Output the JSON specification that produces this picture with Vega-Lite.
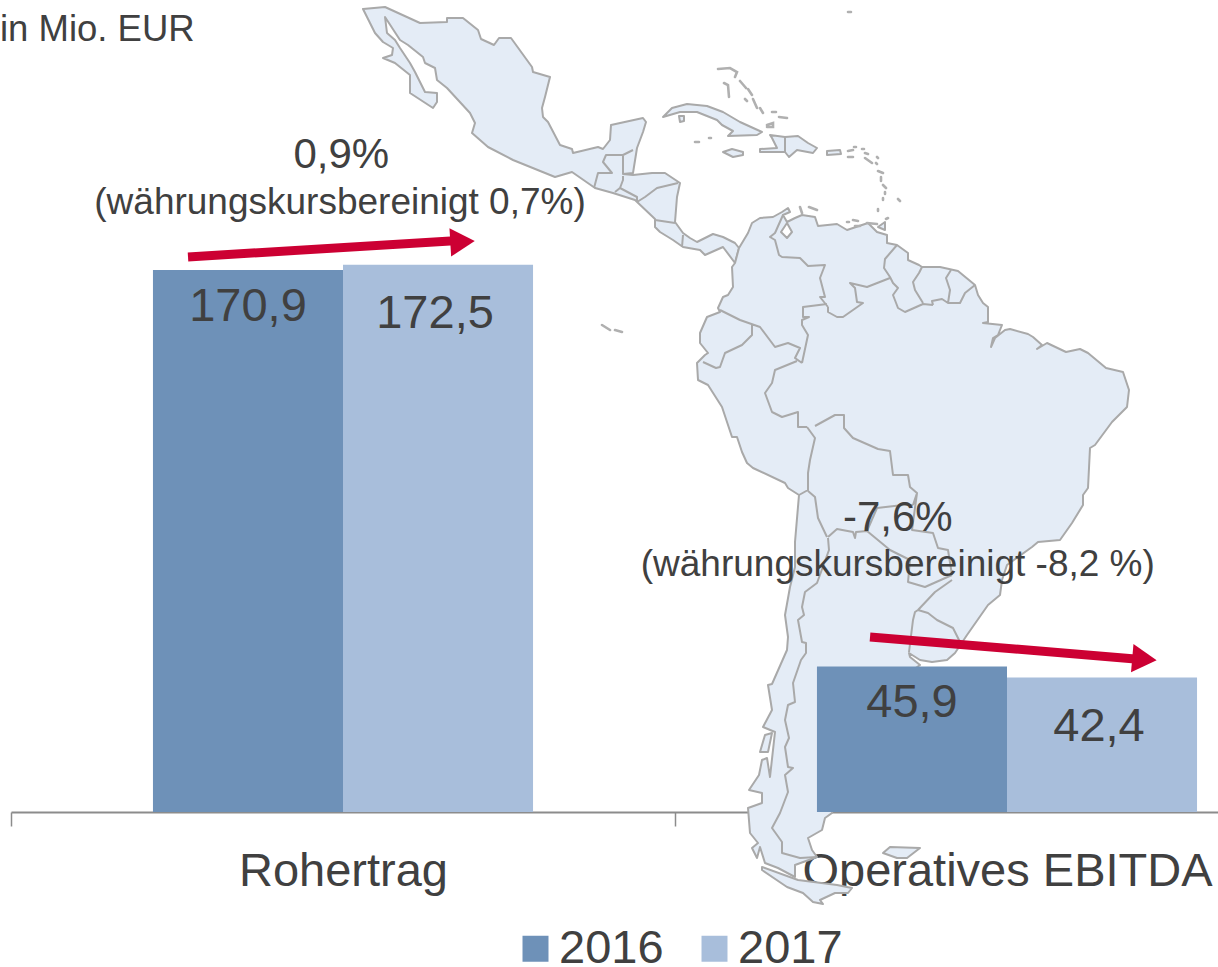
{"$schema":"https://vega.github.io/schema/vega-lite/v6.json","width":1207,"height":812,"autosize":"none","padding":{"left":11,"top":0,"right":0,"bottom":155},"background":"white","config":{"view":{"stroke":null},"font":"Liberation Sans"},
"projection":{"type":"identity","reflectY":true,"scale":10,"translate":[1521,333]},
"resolve":{"scale":{"x":"independent"}},
"layer":[
{"data":{"values":[
{"type":"Feature","properties":{"name":"Mexico and Central America"},"geometry":{"type":"Polygon","coordinates":[[[-116.9,32.4],[-114.7,32.6],[-111.2,31],[-108.5,31.1],[-108.5,31.5],[-106.9,31.5],[-105.4,30.3],[-105.1,29.4],[-103.8,28.8],[-103.3,29.5],[-102.1,29.5],[-100,26.6],[-99.9,26.1],[-98.2,25.6],[-98.7,23.6],[-99,22.5],[-98.9,21.6],[-98.4,21.1],[-97.2,18.8],[-96,18.4],[-95.9,18],[-93.4,18.6],[-92.9,18.4],[-92.2,19.3],[-92.1,20.8],[-88.9,21.5],[-88.6,21.1],[-88.9,20.1],[-89.5,18.5],[-89.9,16],[-90.9,15.9],[-89.9,15.8],[-88,16],[-86.7,16],[-85.2,15],[-85.5,13.6],[-85.7,11.1],[-84.9,10],[-84.2,9.5],[-83.5,9.1],[-81.9,9.9],[-80.9,9.6],[-79.7,9],[-79.3,8.5],[-79.7,7],[-80.9,8.6],[-82.7,7.8],[-83.2,8.3],[-84.9,8.6],[-85.9,9.3],[-87.2,10.1],[-87.7,10.6],[-87.7,11.4],[-89.7,13.3],[-91.9,14],[-93.7,14.5],[-96,16.1],[-97.7,15.6],[-101.9,17.3],[-104.4,18.6],[-106,20],[-105.7,21],[-106.2,22],[-108.5,24.5],[-109.5,25.3],[-109.7,26.5],[-110.7,27],[-110.9,27.6],[-112.4,28.8],[-113.2,29.3],[-114.7,31.6],[-114.5,30],[-113.7,29.3],[-113.2,28.5],[-112.2,27],[-111.7,26.1],[-110.7,24.1],[-109.5,24],[-109.5,23.1],[-109.9,22.5],[-112.2,24],[-112.2,25.8],[-113.7,27],[-114.9,27.5],[-114,27.8],[-113.9,28.5],[-114.9,29.1],[-115.7,30],[-116.9,32.4]]]}},
{"type":"Feature","properties":{"name":"South America"},"geometry":{"type":"Polygon","coordinates":[[[-79.7,7],[-79.3,8.5],[-78.4,10],[-78,11],[-77.2,11.5],[-75.9,11.6],[-75,12.1],[-74.4,12.5],[-74.2,12.1],[-74.9,11.8],[-74.5,11.1],[-73.7,11.5],[-73,11.8],[-71.7,11.6],[-71.4,10.7],[-69.5,10.9],[-68.5,10.3],[-66.4,11],[-65.5,10.1],[-64.5,9.8],[-64.5,9],[-63.5,8.8],[-62.4,8],[-62.4,7.3],[-61.3,6.8],[-61,6.6],[-60,6.6],[-59.2,6.6],[-57.4,6.2],[-55.7,4.8],[-55.4,3.8],[-54.9,3],[-54.4,2.6],[-54.4,1.1],[-54.9,1],[-53,0.8],[-53.4,-0.2],[-53.9,-0.5],[-54.1,-1.4],[-53.7,-0.5],[-52.7,0.3],[-52.2,0.4],[-50.4,-0.1],[-49.9,-0.4],[-49,-1.2],[-49.5,-1.6],[-48.5,-1],[-46.6,-1.9],[-45.2,-1.6],[-44.4,-2],[-42.6,-3.5],[-40.9,-3.9],[-40.3,-5.7],[-40.5,-7.4],[-42,-8.9],[-43.7,-11.2],[-44.2,-11.5],[-44.4,-15.5],[-44.9,-16.2],[-44.9,-17.2],[-46,-19],[-47.2,-20.7],[-49.4,-20.9],[-50,-21.4],[-52.5,-23.2],[-53,-24.7],[-53.2,-26.2],[-54.4,-27.2],[-56.5,-30.2],[-57.7,-32],[-58.5,-32.7],[-60,-32.9],[-61.2,-32.7],[-62.3,-32],[-62.2,-32.4],[-61.2,-33.2],[-66.2,-36.7],[-69.2,-44.7],[-70,-48],[-70.7,-48.5],[-71,-49.7],[-72.4,-50.5],[-72,-51.7],[-71.5,-52.4],[-73.7,-53.2],[-73.7,-54.4],[-75.4,-53.5],[-76.7,-53],[-77.2,-51.4],[-77.5,-52.5],[-78,-51.5],[-77.4,-51],[-78.2,-50],[-78.4,-47.5],[-77,-47],[-77,-46],[-78.3,-45.7],[-77.3,-44.2],[-77,-42.7],[-76.5,-42.5],[-76.2,-44.4],[-75.7,-39.9],[-76.9,-39.4],[-76,-37.7],[-76.4,-35.2],[-76,-35.1],[-74.5,-31.7],[-74.4,-30.4],[-74.7,-28.2],[-74.2,-25.4],[-73.7,-23.4],[-73.7,-20.9],[-73.3,-16.2],[-74.4,-15.5],[-74.7,-15],[-77.9,-13.5],[-78.5,-13],[-79,-11.9],[-79.5,-10.4],[-80,-10.4],[-81,-7.4],[-82.4,-5.2],[-83.4,-4.7],[-83.5,-3],[-82.7,-2.2],[-82.4,-2],[-83.2,-1],[-83.2,0],[-82.5,1.6],[-81.2,2.1],[-81.4,2.5],[-80.9,3.6],[-80.4,3.8],[-79.9,4.6],[-80,6.6],[-79.7,7]],[[-74.5,11],[-75.1,10.1],[-74.5,9.5],[-74,10.1],[-74.5,11]]]}},
{"type":"Feature","properties":{"name":"Cuba"},"geometry":{"type":"Polygon","coordinates":[[[-86.9,21.6],[-86,22.5],[-84.5,22.9],[-82.5,22.7],[-80.9,22.1],[-79.2,21.1],[-77,20.1],[-77.5,19.8],[-80.4,19.7],[-79.9,20.2],[-81,20.8],[-81.5,21.3],[-83.5,22.1],[-85.2,22.1],[-86.9,21.6]]]}},
{"type":"Feature","properties":{"name":"Isla de la Juventud"},"geometry":{"type":"Polygon","coordinates":[[[-85.3,21.7],[-84.8,21.7],[-84.8,21.2],[-85.2,21.1],[-85.3,21.7]]]}},
{"type":"Feature","properties":{"name":"Jamaica"},"geometry":{"type":"Polygon","coordinates":[[[-80.9,18.1],[-80,18.4],[-78.9,18.1],[-78.9,17.8],[-79.9,17.6],[-80.9,18.1]]]}},
{"type":"Feature","properties":{"name":"Hispaniola"},"geometry":{"type":"Polygon","coordinates":[[[-76.2,19.8],[-74.7,19.6],[-73.4,19.7],[-72.4,19],[-71.5,18.5],[-71.9,18],[-73.5,18.3],[-74.3,17.6],[-74.7,18.1],[-77.2,18.1],[-77.2,18.4],[-75.5,18.5],[-76,19.5],[-76.2,19.8]]]}},
{"type":"Feature","properties":{"name":"Puerto Rico"},"geometry":{"type":"Polygon","coordinates":[[[-70.5,18.2],[-69.2,18.3],[-69.1,17.9],[-70.5,17.8],[-70.5,18.2]]]}},
{"type":"Feature","properties":{"name":"Trinidad"},"geometry":{"type":"Polygon","coordinates":[[[-65.4,10.6],[-64.7,11.1],[-64.7,10.3],[-65.4,10.6]]]}},
{"type":"Feature","properties":{"name":"Tierra del Fuego"},"geometry":{"type":"Polygon","coordinates":[[[-77,-53.4],[-73.4,-54.7],[-69.5,-55.2],[-68,-55.5],[-68.4,-56],[-69.7,-56],[-71.2,-56.7],[-70.9,-57.1],[-71.9,-56.9],[-72.9,-56],[-74.5,-55.4],[-77,-53.7],[-77,-53.4]]]}},
{"type":"Feature","properties":{"name":"Falkland"},"geometry":{"type":"Polygon","coordinates":[[[-64.9,-52],[-64.2,-51.4],[-61.2,-51.5],[-62.5,-52.5],[-63.5,-52.5],[-64.9,-52]]]}},
{"type":"Feature","properties":{"name":"Chiloe"},"geometry":{"type":"Polygon","coordinates":[[[-77.2,-41.9],[-76.7,-40.2],[-76,-40],[-76.4,-41.9],[-77.2,-41.9]]]}}
]},"mark":{"type":"geoshape","clip":false,"fill":"#e4ecf6","stroke":"#a9a9a9","strokeWidth":2,"strokeJoin":"round"},"encoding":{}},
{"data":{"values":[
{"type":"Feature","properties":{"name":"borders"},"geometry":{"type":"MultiLineString","coordinates":[
[[-93.8,14.5],[-93.4,16],[-92,16],[-92.9,17.1],[-92.6,17.8],[-90.9,17.8],[-89.9,18.3]],
[[-90.9,17.8],[-90.9,15.9]],
[[-90.9,15.7],[-90.9,15.3],[-91.2,14.5],[-91.7,14.1]],
[[-91.2,14.5],[-89.5,13.6],[-89.5,13.1]],
[[-89.5,13.1],[-88.7,13.6],[-87.5,14.5],[-85.4,15]],
[[-87.7,11.3],[-85.7,11]],
[[-84.9,9.8],[-85,8.6]],
[[-74.9,11.8],[-75.7,10],[-76.2,9.6],[-75.7,9.3],[-75.3,7.8],[-75,7.6],[-73.2,7.5],[-72.4,6.7],[-70.7,6.8],[-71.2,5.5],[-70.7,3.6],[-71.2,3.6],[-70.4,2.6]],
[[-70.5,2.9],[-72.9,2.6],[-72.9,1.6],[-72.3,1.6],[-73,1.3],[-73,0.8],[-72.4,-0.2],[-73,-3]],
[[-70.4,2.6],[-70.4,2.1],[-69.5,1.6],[-68.9,1.6],[-66.9,3],[-67.5,3.1],[-67.7,4.5],[-68.2,5],[-66.5,4.6],[-64.2,5.5]],
[[-63.5,8.8],[-64.7,7.4],[-64.8,6.5],[-64.2,5.6]],
[[-64.2,5.6],[-63.9,5],[-63.4,4.5],[-63.9,3.8],[-63.4,2.5],[-62.7,2.1],[-60.9,2.9],[-59.9,2.8]],
[[-61,6.6],[-61.3,6],[-61.9,5.1],[-61.7,4.3],[-60.9,3]],
[[-59.9,2.8],[-60,3.2],[-59,3.4],[-58.4,3]],
[[-58.1,6.3],[-58.6,5.5],[-58.2,4.3],[-58.4,3],[-57.2,3],[-56.7,4],[-55.7,4.8]],
[[-81.2,2.3],[-79.2,1.3],[-77.2,0.6],[-75.7,-1.4],[-74.4,-1],[-73.2,-1.5],[-73.7,-2.5],[-73,-3]],
[[-78,0.8],[-78,-0.2],[-79,-1.2],[-80.7,-2],[-81.2,-3.4],[-81.6,-3.5],[-82.9,-2.9]],
[[-73.5,-2.8],[-75.7,-3.7],[-76,-5],[-76.7,-6],[-76,-7.9],[-75,-8.4],[-73.4,-7.9],[-73.4,-9.4],[-72.5,-9.4]],
[[-72.5,-9.4],[-71.7,-10.5],[-72.2,-12.7],[-72.4,-14],[-72.4,-15.7],[-73.3,-16.2]],
[[-71.7,-9.3],[-69.7,-8.2],[-68.8,-8.2],[-68.8,-9.5],[-67.9,-10.5],[-65.4,-11.6],[-64.2,-11.8],[-63.9,-14.2],[-62.4,-14.2],[-62.2,-15.4],[-61.5,-16],[-61.9,-17.2]],
[[-66.5,-19.8],[-65.5,-17.5],[-62.9,-17.2],[-61.9,-17.2]],
[[-61.5,-16],[-62,-19.7],[-59.9,-20],[-59.4,-21.5],[-58.4,-21.7],[-58,-24.2]],
[[-72.4,-15.8],[-71.7,-16.4],[-71.4,-18.5],[-70.5,-20.4]],
[[-70.4,-20.4],[-69.5,-19.6],[-67.9,-19.9],[-67.7,-20.5],[-67.6,-19.9],[-66.5,-19.8]],
[[-66.5,-19.8],[-64.2,-21.7],[-62.2,-22.7],[-62.4,-24.9],[-60.7,-25.4],[-58,-24.2]],
[[-58,-24.7],[-59.7,-25.9],[-61.4,-27.7]],
[[-61.4,-27.7],[-60.4,-28],[-59.5,-28.7],[-57.9,-29.5],[-57.2,-30.9]],
[[-61.4,-27.7],[-61.7,-27.9],[-61.9,-28.7],[-62.3,-31.9]],
[[-70.4,-20.5],[-70.3,-21.7],[-71.5,-25],[-72.7,-25.9],[-73,-27.4],[-72.8,-28.2],[-73.4,-28.7],[-73,-30.9],[-72.6,-31],[-72.6,-32],[-73.1,-32.7],[-73.9,-35],[-73.7,-36.9],[-74.4,-37.2],[-74.7,-38.7],[-74.3,-40.5],[-74.7,-41.4],[-74.4,-43.4],[-73.9,-43.5],[-74.7,-44.2],[-74.4,-45.9],[-75.2,-48],[-76,-49.5],[-75,-50.9],[-75,-52],[-73.2,-52.5],[-71.5,-52.4]],
[[-74.7,19.6],[-74.7,18.1]]
]}}
]},"mark":{"type":"geoshape","clip":false,"filled":false,"fill":null,"stroke":"#a9a9a9","strokeWidth":2,"strokeJoin":"round"},"encoding":{}},
{"data":{"values":[
{"type":"Feature","properties":{"name":"small islands"},"geometry":{"type":"MultiLineString","coordinates":[
[[-81.4,26.4],[-80.2,26.5],[-79.5,26.1],[-79.7,25.6]],[[-79.2,25.2],[-78.6,24.5]],[[-78.4,24.4],[-78,23.8]],[[-80.8,25],[-80.4,24.8],[-80.3,23.6]],[[-78.7,23.4],[-78.5,23.2]],[[-77.9,23.4],[-77.5,22.5]],[[-77.2,22.5],[-76.9,22]],[[-76,22.1],[-75.6,22.1]],[[-75.3,21.6],[-74.5,21.5]],[[-76.5,20.8],[-75.9,21],[-75.9,20.6],[-76.5,20.6]],[[-83.7,19.1],[-83.3,19.1]],[[-82.3,19.5],[-82.1,19.5]],[[-68.4,32.1],[-68.1,32.1]],[[-68.4,18.2],[-67.9,18.3]],[[-68.4,17.6],[-67.9,17.6]],[[-67.8,18.6],[-67.6,18.6]],[[-67,18.4],[-66.8,18.4]],[[-66.7,18],[-66.4,17.9]],[[-66.7,17.5],[-66,17]],[[-65.5,17.6],[-65.4,17.5]],[[-65.6,17],[-65.5,16.9]],[[-65.4,16.2],[-64.9,16]],[[-65.1,15.6],[-65.1,15.2]],[[-64.9,14.8],[-64.6,14.5]],[[-64.7,14.1],[-64.7,13.9]],[[-64.9,13.5],[-64.9,13.3]],[[-63.4,13.4],[-63.2,13.2]],[[-65.4,12.4],[-65.4,12.2]],[[-64.4,11.5],[-64.6,11.4]],[[-68.5,11.1],[-68.3,11.1]],[[-67.9,11.3],[-67.4,11.2]],[[-67.7,10.7],[-67.2,10.7]],[[-66.5,11],[-65.5,10.9]],[[-73.2,12.6],[-73,12]],[[-72.3,12.6],[-71.5,12.3]],[[-93,0.8],[-92.2,0.3]],[[-91.7,0.3],[-91,0.1]]
]}}
]},"mark":{"type":"geoshape","clip":false,"filled":false,"fill":null,"stroke":"#b0b0b0","strokeWidth":2.6,"strokeCap":"round"},"encoding":{}},
{"data":{"values":[
{"metric":"Rohertrag","year":"2016","value":170.9,"label":"170,9"},
{"metric":"Rohertrag","year":"2017","value":172.5,"label":"172,5"},
{"metric":"Operatives EBITDA","year":"2016","value":45.9,"label":"45,9"},
{"metric":"Operatives EBITDA","year":"2017","value":42.4,"label":"42,4"}
]},
"encoding":{
"x":{"field":"metric","type":"nominal","sort":["Rohertrag","Operatives EBITDA"],"scale":{"domain":["Rohertrag","Operatives EBITDA"],"range":[0,1328],"paddingInner":0,"paddingOuter":0},"axis":{"title":null,"labelAngle":0,"labelFont":"Liberation Sans","labelFontSize":47,"labelColor":"#404040","labelPadding":22,"labelLimit":0,"labelOverlap":false,"labelBound":false,"labelFlush":false,"tickBand":"extent","tickSize":14,"tickColor":"#8c8c8c","tickWidth":1.5,"domainColor":"#8c8c8c","domainWidth":2}},
"y":{"field":"value","type":"quantitative","stack":null,"scale":{"domain":[0,256],"nice":false,"zero":true},"axis":null}},
"layer":[
{"mark":{"type":"bar"},"encoding":{
"xOffset":{"field":"year","type":"nominal","scale":{"paddingInner":0,"paddingOuter":0.747}},
"color":{"field":"year","type":"nominal","scale":{"domain":["2016","2017"],"range":["#6e91b8","#a8bedb"]},"legend":{"title":null,"orient":"none","legendX":501,"legendY":925,"direction":"horizontal","symbolType":"square","symbolSize":676,"symbolStrokeWidth":0,"labelFont":"Liberation Sans","labelFontSize":47,"labelColor":"#404040","labelOffset":0,"columnPadding":27,"symbolOpacity":1}}}},
{"transform":[{"filter":"datum.year==='2016'"}],"mark":{"type":"text","font":"Liberation Sans","fontSize":47,"color":"#404040","dy":37},"encoding":{"xOffset":{"field":"year","type":"nominal","scale":{"domain":["2016","2017"],"paddingInner":0,"paddingOuter":0.747}},"text":{"field":"label"}}},
{"transform":[{"filter":"datum.year==='2017'"}],"mark":{"type":"text","font":"Liberation Sans","fontSize":47,"color":"#404040","dy":49,"dx":-3},"encoding":{"xOffset":{"field":"year","type":"nominal","scale":{"domain":["2016","2017"],"paddingInner":0,"paddingOuter":0.747}},"text":{"field":"label"}}}
]},
{"data":{"values":[
{"pos":0.2666,"value":175.0,"arrow":"Rohertrag"},{"pos":0.668,"value":180.1,"arrow":"Rohertrag"},
{"pos":1.2937,"value":55.2,"arrow":"EBITDA"},{"pos":1.693,"value":48.25,"arrow":"EBITDA"}
]},"mark":{"type":"line","color":"#cc0033","strokeWidth":9,"strokeCap":"butt"},"encoding":{
"x":{"field":"pos","type":"quantitative","scale":{"domain":[0,2],"range":[0,1328],"nice":false},"axis":null},
"y":{"field":"value","type":"quantitative"},"detail":{"field":"arrow"}}},
{"data":{"values":[{"pos":0.68,"value":179.8}]},"mark":{"type":"point","shape":"triangle-right","filled":true,"size":800,"angle":-3.4,"color":"#cc0033","opacity":1},"encoding":{
"x":{"field":"pos","type":"quantitative","scale":{"domain":[0,2],"range":[0,1328],"nice":false},"axis":null},
"y":{"field":"value","type":"quantitative"}}},
{"data":{"values":[{"pos":1.707,"value":48.2}]},"mark":{"type":"point","shape":"triangle-right","filled":true,"size":800,"angle":5,"color":"#cc0033","opacity":1},"encoding":{
"x":{"field":"pos","type":"quantitative","scale":{"domain":[0,2],"range":[0,1328],"nice":false},"axis":null},
"y":{"field":"value","type":"quantitative"}}},
{"data":{"values":[
{"pos":0.4975,"value":207,"text":"0,9%","size":"big"},
{"pos":0.4955,"value":192,"text":"(währungskursbereinigt 0,7%)","size":"small"},
{"pos":1.3355,"value":92.7,"text":"-7,6%","size":"big"},
{"pos":1.3355,"value":77.9,"text":"(währungskursbereinigt -8,2 %)","size":"small"}
]},"layer":[
{"transform":[{"filter":"datum.size==='big'"}],"mark":{"type":"text","font":"Liberation Sans","fontSize":42,"color":"#404040"},"encoding":{
"x":{"field":"pos","type":"quantitative","scale":{"domain":[0,2],"range":[0,1328],"nice":false},"axis":null},
"y":{"field":"value","type":"quantitative"},"text":{"field":"text"}}},
{"transform":[{"filter":"datum.size==='small'"}],"mark":{"type":"text","font":"Liberation Sans","fontSize":37,"color":"#404040"},"encoding":{
"x":{"field":"pos","type":"quantitative","scale":{"domain":[0,2],"range":[0,1328],"nice":false},"axis":null},
"y":{"field":"value","type":"quantitative"},"text":{"field":"text"}}}
]},
{"data":{"values":[{"pos":-0.0166,"value":246.6,"text":"in Mio. EUR"}]},"mark":{"type":"text","font":"Liberation Sans","fontSize":36.5,"color":"#404040","align":"left"},"encoding":{
"x":{"field":"pos","type":"quantitative","scale":{"domain":[0,2],"range":[0,1328],"nice":false},"axis":null},
"y":{"field":"value","type":"quantitative"},"text":{"field":"text"}}}
]}
